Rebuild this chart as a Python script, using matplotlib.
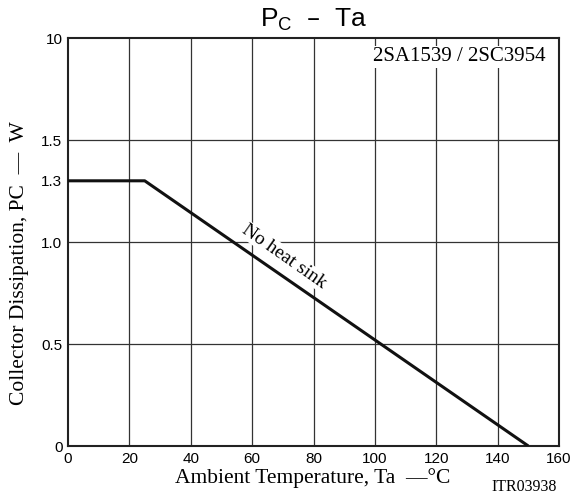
import matplotlib
matplotlib.use("Agg")
import matplotlib.pyplot as plt

# Data
temp = [0, 25, 150]
power = [1.3, 1.3, 0.0]
x_ticks = [0, 20, 40, 60, 80, 100, 120, 140, 160]
y_ticks = [0, 0.5, 1.0, 1.3, 1.5, 2.0]
y_tick_labels = ["0", "0.5", "1.0", "1.3", "1.5", "10"]
y_grid = [0.5, 1.0, 1.5]
x_grid = [20, 40, 60, 80, 100, 120, 140]

W, H = 580, 497
fig = plt.figure(figsize=(W / 100, H / 100), dpi=100)
ax = fig.add_axes([68 / W, 1 - 446 / H, (559 - 68) / W, (446 - 38) / H])

ax.set_xlim(0, 160)
ax.set_ylim(0, 2.0)

for g in x_grid:
    ax.axvline(g, color="#333333", lw=0.9, zorder=1)
for g in y_grid:
    ax.axhline(g, color="#333333", lw=0.9, zorder=1)

ax.plot(temp, power, color="#111111", lw=2.2, zorder=3, solid_capstyle="butt")

ax.set_xticks(x_ticks)
ax.set_xticklabels([str(t) for t in x_ticks], family="Liberation Sans", fontsize=11)
ax.set_yticks(y_ticks)
ax.set_yticklabels(y_tick_labels, family="Liberation Sans", fontsize=11)
ax.tick_params(length=0, pad=4)
for s in ax.spines.values():
    s.set_linewidth(1.5)
    s.set_color("#222222")

fig.text(313 / W, 1 - 478 / H, "Ambient Temperature, Ta  —°C", family="Liberation Serif",
         fontsize=15.5, ha="center", va="center")
fig.text(20 / W, 1 - 263 / H, "Collector Dissipation, PC  —  W", family="Liberation Serif",
         fontsize=15.5, ha="center", va="center", rotation=90)

fig.text(314 / W, 1 - 20 / H, r"P$_\mathregular{C}$  –  Ta", family="Liberation Sans",
         fontsize=19, ha="center", va="center")

ax.text(155.8, 1.955, "2SA1539 / 2SC3954", family="Liberation Serif", fontsize=15,
        ha="right", va="top", zorder=4,
        bbox=dict(facecolor="white", edgecolor="none", pad=1))

ax.text(70.5, 0.93, "No heat sink", family="Liberation Serif", fontsize=14,
        ha="center", va="center", rotation=-35, rotation_mode="anchor", zorder=4,
        bbox=dict(facecolor="white", edgecolor="none", pad=0.5))

fig.text(557 / W, 1 - 487 / H, "ITR03938", family="Liberation Serif", fontsize=11.5,
         ha="right", va="center")

fig.savefig("out.png", dpi=100)
